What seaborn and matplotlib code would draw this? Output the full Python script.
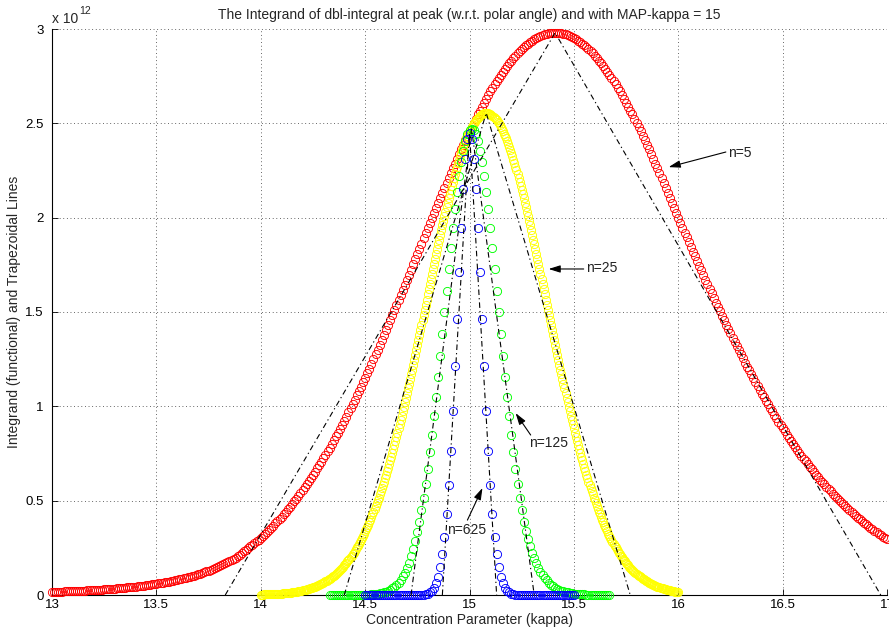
import numpy as np
import pandas as pd
import matplotlib
matplotlib.use("Agg")
import matplotlib.pyplot as plt
import seaborn as sns

# ---------------- data (integrand values in units of 1e12) ----------------
# x grids: start, stop, number of samples
red_grid = (13.0, 17.0, 401)
yellow_grid = (14.0, 16.0, 401)
green_grid = (14.33, 15.67, 135)
blue_grid = (14.5, 15.5, 101)

red_y = [
    0.0162, 0.0165, 0.0169, 0.0173, 0.0177, 0.0182, 0.0186, 0.0190, 0.0195, 0.0200,
    0.0205, 0.0210, 0.0215, 0.0220, 0.0226, 0.0231, 0.0237, 0.0243, 0.0249, 0.0256,
    0.0262, 0.0269, 0.0276, 0.0283, 0.0291, 0.0299, 0.0306, 0.0315, 0.0323, 0.0332,
    0.0341, 0.0350, 0.0360, 0.0369, 0.0380, 0.0390, 0.0401, 0.0412, 0.0424, 0.0436,
    0.0448, 0.0461, 0.0474, 0.0488, 0.0502, 0.0516, 0.0531, 0.0547, 0.0563, 0.0580,
    0.0597, 0.0614, 0.0633, 0.0652, 0.0671, 0.0692, 0.0713, 0.0734, 0.0757, 0.0780,
    0.0804, 0.0829, 0.0855, 0.0882, 0.0910, 0.0938, 0.0968, 0.0999, 0.1031, 0.1064,
    0.1099, 0.1134, 0.1171, 0.1209, 0.1248, 0.1290, 0.1332, 0.1376, 0.1422, 0.1469,
    0.1519, 0.1570, 0.1623, 0.1677, 0.1735, 0.1794, 0.1855, 0.1919, 0.1986, 0.2054,
    0.2126,
    0.225, 0.233, 0.241, 0.249, 0.258, 0.267, 0.276, 0.285, 0.294, 0.304,
    0.314, 0.325, 0.335, 0.346, 0.357, 0.368, 0.379, 0.391, 0.403, 0.416,
    0.428, 0.441, 0.455, 0.468, 0.482, 0.496, 0.510, 0.525, 0.540, 0.555,
    0.571, 0.587, 0.603, 0.619, 0.636, 0.653, 0.671, 0.688, 0.706, 0.725,
    0.743, 0.762, 0.781, 0.801, 0.821, 0.841, 0.861, 0.882, 0.903, 0.924,
    0.946, 0.968, 0.990, 1.012, 1.035, 1.058, 1.081, 1.104, 1.128, 1.152,
    1.176, 1.200, 1.225, 1.250, 1.275, 1.300, 1.326, 1.352, 1.377, 1.403,
    1.430, 1.456, 1.482, 1.509, 1.536, 1.562, 1.590, 1.617, 1.644, 1.671,
    1.698, 1.725, 1.753, 1.780, 1.807, 1.835, 1.862, 1.890, 1.917, 1.944,
    1.971, 1.998, 2.025, 2.052, 2.079, 2.106, 2.132, 2.159, 2.185, 2.211,
    2.237, 2.262, 2.287, 2.312, 2.337, 2.362, 2.386, 2.410, 2.434, 2.457,
    2.480, 2.503, 2.525, 2.547, 2.568, 2.589, 2.610, 2.630, 2.650, 2.669,
    2.688, 2.706, 2.724, 2.741, 2.757, 2.774, 2.789, 2.804, 2.819, 2.833,
    2.846, 2.859, 2.871, 2.883, 2.894, 2.904, 2.914, 2.923, 2.931, 2.939,
    2.946, 2.952, 2.958, 2.963, 2.968, 2.971, 2.975, 2.977, 2.979, 2.980,
    2.980,
    2.980, 2.979, 2.977, 2.975, 2.971, 2.968, 2.963, 2.958, 2.952, 2.946,
    2.939, 2.931, 2.923, 2.914, 2.904, 2.894, 2.883, 2.871, 2.859, 2.846,
    2.833, 2.819, 2.804, 2.789, 2.774, 2.757, 2.741, 2.724, 2.706, 2.688,
    2.669, 2.650, 2.630, 2.610, 2.589, 2.568, 2.547, 2.525, 2.503, 2.480,
    2.457, 2.434, 2.410, 2.386, 2.362, 2.337, 2.312, 2.287, 2.262, 2.237,
    2.211, 2.185, 2.159, 2.132, 2.106, 2.079, 2.052, 2.025, 1.998, 1.971,
    1.946, 1.921, 1.896, 1.871, 1.846, 1.820, 1.795, 1.771, 1.746, 1.721,
    1.696, 1.672, 1.647, 1.623, 1.599, 1.574, 1.550, 1.527, 1.503, 1.480,
    1.456, 1.433, 1.410, 1.387, 1.364, 1.342, 1.319, 1.297, 1.275, 1.254,
    1.232, 1.211, 1.190, 1.169, 1.149, 1.128, 1.108, 1.088, 1.068, 1.049,
    1.030, 1.011, 0.992, 0.973, 0.955, 0.937, 0.919, 0.901, 0.884, 0.867,
    0.850, 0.833, 0.817, 0.801, 0.785, 0.769, 0.754, 0.738, 0.723, 0.709,
    0.694, 0.680, 0.666, 0.652, 0.638, 0.625, 0.612, 0.599, 0.586, 0.573,
    0.561, 0.549, 0.537, 0.525, 0.514, 0.503, 0.492, 0.481, 0.470, 0.460,
    0.449, 0.439, 0.429, 0.420, 0.410, 0.401, 0.391, 0.382, 0.374, 0.365,
    0.357, 0.348, 0.340, 0.332, 0.324, 0.317, 0.309, 0.302, 0.295,
]

yellow_y = [
    0.0023, 0.0024, 0.0026, 0.0027, 0.0029, 0.0031, 0.0033, 0.0035, 0.0038, 0.0040,
    0.0043, 0.0045, 0.0048, 0.0051, 0.0055, 0.0058, 0.0062, 0.0065, 0.0069, 0.0074,
    0.0078, 0.0083, 0.0088, 0.0093, 0.0099, 0.0105, 0.0111, 0.0118, 0.0124, 0.0132,
    0.0139, 0.0147, 0.0156, 0.0164, 0.0174, 0.0184, 0.0194, 0.0205, 0.0216, 0.0228,
    0.0240, 0.0254, 0.0267, 0.0282, 0.0297, 0.0312, 0.0329, 0.0346, 0.0364, 0.0383,
    0.0402, 0.0423, 0.0444, 0.0467, 0.0490, 0.0514, 0.0540, 0.0567, 0.0594, 0.0623,
    0.0653, 0.0685, 0.0717, 0.0751, 0.0787, 0.0823, 0.0861, 0.0901, 0.0942, 0.0985,
    0.103, 0.108, 0.112, 0.117, 0.122, 0.128, 0.133, 0.139, 0.145, 0.151,
    0.157, 0.164, 0.171, 0.178, 0.185, 0.192, 0.200, 0.208, 0.216, 0.225,
    0.233, 0.242, 0.252, 0.261, 0.271, 0.282, 0.292, 0.303, 0.314, 0.325,
    0.337, 0.349, 0.361, 0.373, 0.386, 0.400, 0.413, 0.427, 0.441, 0.455,
    0.470, 0.485, 0.501, 0.516, 0.533, 0.549, 0.566, 0.583, 0.601, 0.619,
    0.637, 0.656, 0.675, 0.694, 0.714, 0.734, 0.754, 0.775, 0.796, 0.817,
    0.839, 0.861, 0.883, 0.906, 0.928, 0.951, 0.975, 0.998, 1.022, 1.046,
    1.070, 1.095, 1.119, 1.144, 1.170, 1.195, 1.221, 1.246, 1.272, 1.299,
    1.325, 1.351, 1.378, 1.405, 1.431, 1.458, 1.485, 1.512, 1.539, 1.566,
    1.593, 1.620, 1.647, 1.674, 1.701, 1.727, 1.754, 1.780, 1.806, 1.832,
    1.858, 1.884, 1.909, 1.934, 1.959, 1.984, 2.008, 2.032, 2.056, 2.079,
    2.102, 2.125, 2.147, 2.169, 2.190, 2.211, 2.231, 2.251, 2.270, 2.289,
    2.308, 2.325, 2.342, 2.359, 2.375, 2.391, 2.406, 2.420, 2.433, 2.446,
    2.458, 2.470, 2.481, 2.491, 2.500, 2.509, 2.517, 2.524, 2.530, 2.536,
    2.541, 2.545, 2.549, 2.552, 2.553, 2.555,
    2.555,
    2.555, 2.553, 2.552, 2.549, 2.545, 2.541, 2.536, 2.530, 2.524, 2.517,
    2.509, 2.500, 2.491, 2.481, 2.470, 2.458, 2.446, 2.433, 2.420, 2.406,
    2.391, 2.375, 2.359, 2.342, 2.325, 2.308, 2.289, 2.270, 2.251, 2.231,
    2.211, 2.190, 2.169, 2.147, 2.125, 2.102, 2.079, 2.056, 2.032, 2.008,
    1.984, 1.959, 1.934, 1.909, 1.884, 1.858, 1.832, 1.806, 1.780, 1.754,
    1.727, 1.701, 1.674, 1.647, 1.620, 1.593, 1.566, 1.539, 1.512, 1.485,
    1.458, 1.431, 1.405, 1.378, 1.351, 1.325, 1.299, 1.272, 1.246, 1.221,
    1.195, 1.170, 1.144, 1.119, 1.095, 1.070, 1.046, 1.022, 0.998, 0.975,
    0.951, 0.928, 0.906, 0.883, 0.861, 0.839, 0.817, 0.796, 0.775, 0.754,
    0.734, 0.714, 0.694, 0.675, 0.656, 0.637, 0.619, 0.601, 0.583, 0.566,
    0.549, 0.533, 0.516, 0.501, 0.485, 0.470, 0.455, 0.441, 0.427, 0.413,
    0.400, 0.386, 0.373, 0.361, 0.349, 0.337, 0.325, 0.314, 0.303, 0.292,
    0.282, 0.271, 0.261, 0.252, 0.242, 0.233, 0.225, 0.216, 0.208, 0.200,
    0.192, 0.185, 0.178, 0.171, 0.164, 0.157, 0.151, 0.145, 0.139, 0.133,
    0.128, 0.122, 0.117, 0.112, 0.108, 0.103, 0.0985, 0.0942, 0.0901, 0.0861,
    0.0823, 0.0787, 0.0751, 0.0717, 0.0685, 0.0653, 0.0623, 0.0594, 0.0567, 0.0540,
    0.0514, 0.0490, 0.0467, 0.0444, 0.0423, 0.0402, 0.0383, 0.0364, 0.0346, 0.0329,
    0.0312, 0.0297, 0.0282, 0.0267, 0.0254, 0.0240, 0.0228, 0.0216, 0.0205, 0.0194,
    0.0184, 0.0174, 0.0164, 0.0156,
]

green_y = [
    0.0, 0.0, 0.0, 0.0, 0.0, 0.0, 0.0, 0.0, 0.0, 0.0,
    0.0001, 0.0001, 0.0002, 0.0003, 0.0004, 0.0006, 0.0008, 0.0011,
    0.0015, 0.0020, 0.0027, 0.0036, 0.0047, 0.0062, 0.0080, 0.0104, 0.0134, 0.0171,
    0.0217, 0.0274, 0.0345, 0.0430, 0.0534, 0.0659, 0.0808, 0.0985, 0.119, 0.144,
    0.172, 0.205, 0.243, 0.286, 0.334, 0.389, 0.449, 0.516, 0.590, 0.670,
    0.756, 0.849, 0.947, 1.050, 1.158, 1.269, 1.383, 1.498, 1.613, 1.727,
    1.838, 1.944, 2.044, 2.137, 2.220, 2.294, 2.356, 2.405, 2.441, 2.463,
    2.470,
    2.463, 2.441, 2.405, 2.356, 2.294, 2.220, 2.137, 2.044, 1.944, 1.838,
    1.727, 1.613, 1.498, 1.383, 1.269, 1.158, 1.050, 0.947, 0.849, 0.756,
    0.670, 0.590, 0.516, 0.449, 0.389,
    0.340, 0.297, 0.259, 0.224, 0.194, 0.167, 0.144, 0.124, 0.106, 0.090,
    0.077, 0.065, 0.055, 0.0466, 0.0393, 0.0331, 0.0278, 0.0233, 0.0195, 0.0163,
    0.0136, 0.0113, 0.0094, 0.0078, 0.0065, 0.0054, 0.0044, 0.0037, 0.0030, 0.0025,
    0.0020, 0.0017, 0.0014, 0.0011, 0.0009, 0.0007, 0.0006, 0.0005, 0.0004, 0.0003,
    0.0002,
]

blue_y = [
    0.0, 0.0, 0.0, 0.0, 0.0, 0.0, 0.0, 0.0, 0.0, 0.0, 0.0, 0.0,
    0.0, 0.0, 0.0, 0.0, 0.0, 0.0, 0.0, 0.0, 0.0, 0.0, 0.0, 0.0,
    0.0001, 0.0003, 0.0006, 0.0012, 0.0023, 0.0043, 0.0078, 0.0137, 0.0233, 0.0386,
    0.0620, 0.0967, 0.147, 0.216, 0.310, 0.431, 0.583, 0.765, 0.977, 1.212,
    1.461, 1.711, 1.947, 2.153, 2.313, 2.415,
    2.450,
    2.415, 2.313, 2.153, 1.947, 1.711, 1.461, 1.212, 0.977, 0.765, 0.583,
    0.431, 0.310, 0.216, 0.147, 0.0967, 0.0620, 0.0386, 0.0233, 0.0137, 0.0078,
    0.0043, 0.0023, 0.0012, 0.0006, 0.0003, 0.0001,
    0.0, 0.0, 0.0, 0.0, 0.0, 0.0, 0.0, 0.0, 0.0, 0.0, 0.0, 0.0,
    0.0, 0.0, 0.0, 0.0, 0.0, 0.0, 0.0, 0.0, 0.0, 0.0, 0.0, 0.0,
]

# trapezoidal (triangle) lines: left foot, apex, right foot
trap_labels = ["n=5", "n=25", "n=125", "n=625"]
trap_left = [13.83, 14.40, 14.72, 14.87]
trap_apex_x = [15.41, 15.08, 15.01, 15.00]
trap_apex_y = [2.98, 2.555, 2.47, 2.45]
trap_right = [16.97, 15.77, 15.31, 15.13]

# annotation text anchor (left, middle) and arrow tail / tip
label_xy = [(16.24, 2.342), (15.556, 1.733), (15.283, 0.806), (14.894, 0.344)]
arrow_tail = [(16.228, 2.348), (15.547, 1.728), (15.293, 0.848), (14.990, 0.397)]
arrow_tip = [(15.954, 2.268), (15.379, 1.728), (15.221, 0.964), (15.062, 0.567)]

x_ticks = [13, 13.5, 14, 14.5, 15, 15.5, 16, 16.5, 17]
x_tick_labels = ["13", "13.5", "14", "14.5", "15", "15.5", "16", "16.5", "17"]
y_ticks = [0, 0.5, 1, 1.5, 2, 2.5, 3]
y_tick_labels = ["0", "0.5", "1", "1.5", "2", "2.5", "3"]

assert len(red_y) == red_grid[2]
assert len(yellow_y) == yellow_grid[2]
assert len(green_y) == green_grid[2]
assert len(blue_y) == blue_grid[2]

# ---------------- style ----------------
sns.set_theme(style="white")
plt.rcParams["font.family"] = ["Liberation Sans", "DejaVu Sans"]
plt.rcParams["lines.scale_dashes"] = False
plt.rcParams["axes.edgecolor"] = "black"

fig = plt.figure(figsize=(8.89, 6.32), dpi=100)
fig.patch.set_facecolor("white")
ax = fig.add_axes([52 / 889, 1 - 595 / 632, (887 - 52) / 889, (595 - 29) / 632])
ax.set_facecolor("white")

curves = [
    (red_grid, red_y, "#FF0000"),
    (yellow_grid, yellow_y, "#FFFF00"),
    (green_grid, green_y, "#00FF00"),
    (blue_grid, blue_y, "#0000FF"),
]
for (x0, x1, n), ys, c in curves:
    df = pd.DataFrame({"kappa": np.linspace(x0, x1, n), "val": ys})
    sns.lineplot(data=df, x="kappa", y="val", ax=ax, estimator=None, sort=False,
                 errorbar=None, marker="o", linestyle="none", markersize=5.9,
                 markerfacecolor="none", markeredgecolor=c, markeredgewidth=0.65,
                 color=c, clip_on=False, zorder=3)

for xl, xa, ya, xr in zip(trap_left, trap_apex_x, trap_apex_y, trap_right):
    tdf = pd.DataFrame({"kappa": [xl, xa, xr], "val": [0.0, ya, 0.0]})
    sns.lineplot(data=tdf, x="kappa", y="val", ax=ax, estimator=None, sort=False,
                 errorbar=None, color="black", linewidth=0.8,
                 linestyle=(0, (4.0, 2.2, 0.9, 2.2)), zorder=4)

for lab, txy, tail, tip in zip(trap_labels, label_xy, arrow_tail, arrow_tip):
    ax.annotate("", xy=tip, xytext=tail,
                arrowprops=dict(arrowstyle="-|>,head_length=0.7,head_width=0.22",
                                color="black", lw=0.8, shrinkA=0, shrinkB=0,
                                mutation_scale=10), zorder=6)
    ax.text(txy[0], txy[1], lab, ha="left", va="center", fontsize=10,
            color="#222222", zorder=6)

ax.set_xlim(13, 17)
ax.set_ylim(0, 3)
ax.set_xticks(x_ticks)
ax.set_xticklabels(x_tick_labels)
ax.set_yticks(y_ticks)
ax.set_yticklabels(y_tick_labels)
ax.tick_params(axis="both", direction="in", length=4, width=0.6, labelsize=9.5,
               colors="black", bottom=True, left=True)
ax.tick_params(axis="x", pad=3)
ax.tick_params(axis="y", pad=6)
ax.grid(True, color="black", linewidth=0.6, linestyle=(0, (0.6, 2.0)), alpha=0.8)
ax.set_axisbelow(True)
for s in ["top", "right"]:
    ax.spines[s].set_visible(False)
for s in ["left", "bottom"]:
    ax.spines[s].set_linewidth(0.8)
    ax.spines[s].set_color("black")

ax.set_title("The Integrand of dbl-integral at peak (w.r.t. polar angle) and with MAP-kappa = 15",
             fontsize=10, pad=7)
ax.set_xlabel("Concentration Parameter (kappa)", fontsize=10, labelpad=1)
ax.set_ylabel("Integrand (functional) and Trapezoidal Lines", fontsize=10, labelpad=3)

fig.text(52 / 889, 1 - 19 / 632, "x 10", fontsize=10, ha="left", va="center")
fig.text(79 / 889, 1 - 11 / 632, "12", fontsize=7.5, ha="left", va="center")

fig.savefig("out.png", dpi=100, facecolor="white")
